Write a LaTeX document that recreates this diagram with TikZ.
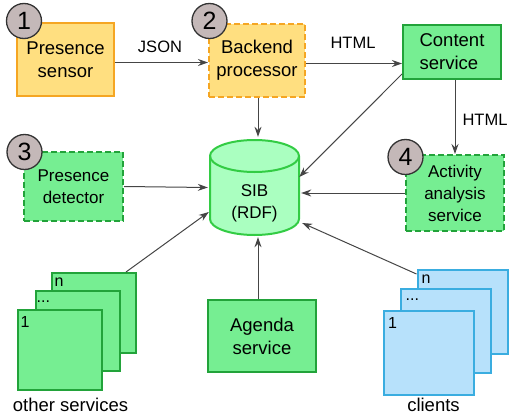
\documentclass[tikz,border=0pt]{standalone}
\usepackage{fontspec}
\setmainfont{Liberation Sans}
\usetikzlibrary{arrows.meta,calc}
\definecolor{orB}{HTML}{F5A623}
\definecolor{orF}{HTML}{FFDF80}
\definecolor{grB}{HTML}{22A33A}
\definecolor{grF}{HTML}{76EE92}
\definecolor{sibB}{HTML}{33CC44}
\definecolor{sibF}{HTML}{AAFFC0}
\definecolor{blB}{HTML}{3AADE0}
\definecolor{blF}{HTML}{B7E1FB}
\definecolor{ciF}{HTML}{C4B8B8}
\definecolor{lnC}{HTML}{454545}
\begin{document}
\begin{tikzpicture}[x=1pt,y=-1pt,
  box/.style={rectangle, line width=2pt, inner sep=0pt, align=center},
  orbox/.style={box, draw=orB, fill=orF},
  grbox/.style={box, draw=grB, fill=grF},
  blbox/.style={box, draw=blB, fill=blF},
  dashbox/.style={dash pattern=on 6pt off 3pt},
  big/.style={font=\fontsize{18.5}{23}\selectfont},
  mid/.style={font=\fontsize{17}{22}\selectfont},
  elabel/.style={font=\fontsize{16.5}{20}\selectfont, inner sep=0pt},
  small/.style={font=\fontsize{16}{16}\selectfont, inner sep=0pt, anchor=base west},
  num/.style={circle, minimum size=35pt, inner sep=0pt, fill=ciF, draw=black!80, line width=1.3pt, font=\fontsize{25}{25}\selectfont},
  conn/.style={draw=lnC, line width=1pt, -{Stealth[length=10pt,width=7pt]}},
  stackgr/.style={grbox, minimum width=84pt, minimum height=80pt},
  stackbl/.style={blbox, minimum width=90pt, minimum height=84pt}
]
\useasboundingbox (0,0) rectangle (509,415);

% top row
\node[orbox, big, minimum width=97pt, minimum height=73pt] (ps) at (65.5,59.5) {Presence\\sensor};
\node[orbox, dashbox, big, minimum width=96pt, minimum height=73pt] (bp) at (257,60.5) {Backend\\processor};
\node[grbox, big, align=left, minimum width=98pt, minimum height=54pt] (cs) at (452,52) {Content\\service};

% middle row
\node[grbox, dashbox, mid, minimum width=99pt, minimum height=69pt] (pd) at (73.5,186.5) {Presence\\detector};
\node[grbox, dashbox, mid, minimum width=98pt, minimum height=76pt] (aas) at (455,193) {Activity\\analysis\\service};

% SIB cylinder
\node[minimum width=89pt, minimum height=95pt, inner sep=0pt] (sib) at (254.5,187.5) {};
\fill[sibF] (210,156) -- (210,219) arc (180:0:44.5 and 16) -- (299,156) arc (0:-180:44.5 and 16) -- cycle;
\draw[sibB, line width=2pt] (210,156) -- (210,219) arc (180:0:44.5 and 16) -- (299,156) arc (0:-180:44.5 and 16) -- cycle;
\draw[sibB, line width=2pt] (210,156) arc (180:0:44.5 and 16);
\node[mid, align=center] (sibt) at (254.5,203) {SIB\\(RDF)};

% bottom
\node[stackgr] (on) at (94,313) {};
\node[small] (onl) at ([xshift=3.5pt,yshift=-14pt]on.north west) {n};
\node[stackgr] (od) at (77.5,331) {};
\node[small] (odl) at ([xshift=2pt,yshift=-12.5pt]od.north west) {...};
\node[stackgr] (o1) at (59.5,350) {};
\node[small] (o1l) at ([xshift=4pt,yshift=-18pt]o1.north west) {1};
\node[big] (olab) at (70.5,405) {other services};

\node[grbox, big, minimum width=108pt, minimum height=72pt] (ag) at (262,336) {Agenda\\service};

\node[stackbl] (cn) at (462.5,312) {};
\node[small] (cnl) at ([xshift=5pt,yshift=-14pt]cn.north west) {n};
\node[stackbl] (cd) at (445.5,331) {};
\node[small] (cdl) at ([xshift=6pt,yshift=-12.5pt]cd.north west) {...};
\node[stackbl] (c1) at (429,352.5) {};
\node[small] (c1l) at ([xshift=5pt,yshift=-19pt]c1.north west) {1};
\node[big] (clab) at (433.5,405) {clients};

% numbered circles
\node[num] (n1) at (24,21) {1};
\node[num] (n2) at (209.5,21) {2};
\node[num] (n3) at (24.5,152) {3};
\node[num] (n4) at (405.5,157) {4};

% connectors
\draw[conn] ([yshift=-3pt]ps.east) -- ([yshift=-3pt]ps.east -| bp.west);
\node[elabel] (json) at (160,47) {JSON};
\draw[conn] ([yshift=-3pt]bp.east) -- ([yshift=-3pt]bp.east -| cs.west);
\node[elabel] (html1) at (353,43) {HTML};
\draw[conn] (aas.north |- cs.south) -- (aas.north);
\node[elabel] (html2) at (485,120) {HTML};
\draw[conn] ([yshift=6pt]cs.south west) -- ([yshift=10.5pt]sib.east);
\draw[conn] ([xshift=1pt]bp.south) -- ([xshift=3.5pt,yshift=3pt]sib.north);
\draw[conn] (aas.west) -- ([xshift=2pt,yshift=-5.5pt]sib.east);
\draw[conn] (pd.east) -- ([xshift=-2pt]sib.west);
\draw[conn] ([xshift=-11pt]on.north east) -- ([xshift=-1pt,yshift=-24.5pt]sib.west);
\draw[conn] ([xshift=-4pt]ag.north) -- ([xshift=3.5pt,yshift=-2pt]sib.south);
\draw[conn] ([yshift=-5pt]cn.north west) -- ([xshift=3pt,yshift=-35.5pt]sib.east);
\end{tikzpicture}
\end{document}
